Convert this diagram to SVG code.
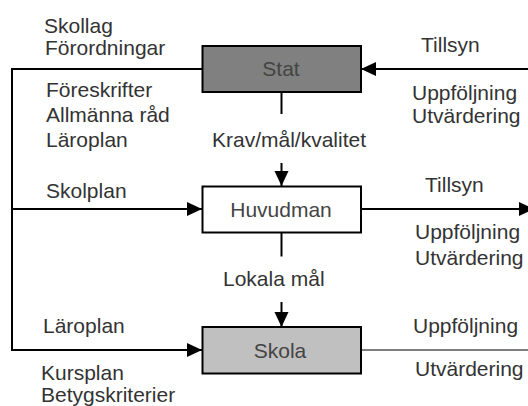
<svg xmlns="http://www.w3.org/2000/svg" width="528" height="406" viewBox="0 0 528 406">
<style>
text{font-family:"Liberation Sans",Arial,sans-serif;font-size:21px;fill:#333}
.box{stroke:#000;stroke-width:2}
.bt{fill:#444;text-anchor:middle}
.c{fill:none;stroke:#000;stroke-width:2}
</style>
<defs>
<marker id="ah" markerUnits="userSpaceOnUse" markerWidth="16" markerHeight="15" refX="15" refY="7" orient="auto" viewBox="0 0 16 15">
<path d="M0,0 L15,7 L0,14 z" fill="#000"/>
</marker>
</defs>
<rect width="528" height="406" fill="#fff"/>
<g id="connectors">
<path class="c" d="M202,69 H12 V350 H202" marker-end="url(#ah)"/>
<path class="c" d="M12,209 H202" marker-end="url(#ah)"/>
<path class="c" d="M530,69 H361" marker-end="url(#ah)"/>
<path class="c" d="M281.5,92 V114"/>
<path class="c" d="M281.5,163 V186" marker-end="url(#ah)"/>
<path class="c" d="M281.5,233 V256.5"/>
<path class="c" d="M281.5,302 V327" marker-end="url(#ah)"/>
<path class="c" d="M361,209 H534" marker-end="url(#ah)"/>
<path class="c" d="M361,350 H528" style="stroke-width:1.2"/>
</g>
<g id="stat">
<rect class="box" x="202.5" y="46" width="158.5" height="46" fill="#808080"/>
<text class="bt" x="281" y="76">Stat</text>
</g>
<g id="huvudman">
<rect class="box" x="202.5" y="186.5" width="158.5" height="46" fill="#fff"/>
<text class="bt" x="281" y="217">Huvudman</text>
</g>
<g id="skola">
<rect class="box" x="202.5" y="327" width="158.5" height="46.5" fill="#c0c0c0"/>
<text class="bt" x="280" y="358">Skola</text>
</g>
<g id="labels">
<text x="44" y="33">Skollag</text>
<text x="45" y="55">Förordningar</text>
<text x="46" y="97">Föreskrifter</text>
<text x="46" y="122">Allmänna råd</text>
<text x="46" y="147">Läroplan</text>
<text x="212" y="147">Krav/mål/kvalitet</text>
<text x="46" y="198">Skolplan</text>
<text x="421" y="52">Tillsyn</text>
<text x="412" y="100">Uppföljning</text>
<text x="412" y="123">Utvärdering</text>
<text x="425" y="192">Tillsyn</text>
<text x="415" y="239">Uppföljning</text>
<text x="415" y="265">Utvärdering</text>
<text x="223" y="286">Lokala mål</text>
<text x="43" y="333">Läroplan</text>
<text x="413" y="333">Uppföljning</text>
<text x="41" y="380">Kursplan</text>
<text x="415" y="376">Utvärdering</text>
<text x="41" y="402">Betygskriterier</text>
</g>
</svg>
